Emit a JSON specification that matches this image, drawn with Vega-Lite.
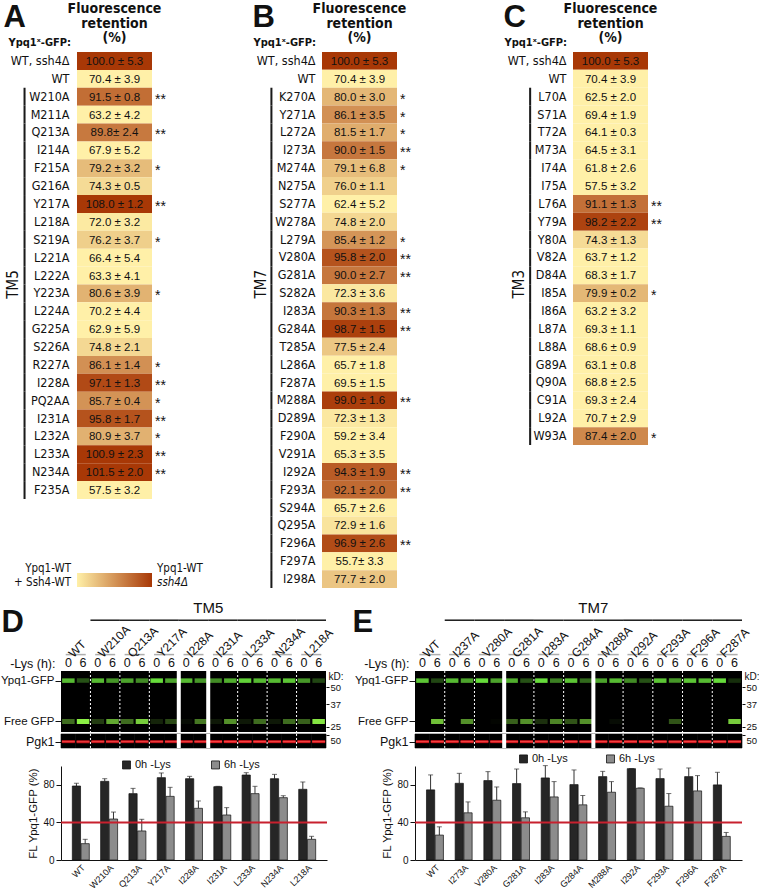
{
"$schema": "https://vega.github.io/schema/vega-lite/v6.json",
"padding": {"left": 0, "top": 1, "right": 0, "bottom": 0},
"background": "white",
"config": {
  "font": "Liberation Sans",
  "view": {"stroke": null},
  "axis": {"labelColor": "#111111", "titleColor": "#111111", "grid": false, "labelFont": "Liberation Sans", "titleFont": "Liberation Sans", "titleFontWeight": "normal"},
  "text": {"color": "#111111"}
},
"datasets": {
  "tm5": [
    {"mut":"WT, ssh4Δ","mean":100.0,"label":"100.0 ± 5.3","sig":"","tm":""},
    {"mut":"WT","mean":70.4,"label":"70.4 ± 3.9","sig":"","tm":""},
    {"mut":"W210A","mean":91.5,"label":"91.5 ± 0.8","sig":"**","tm":"TM5"},
    {"mut":"M211A","mean":63.2,"label":"63.2 ± 4.2","sig":"","tm":"TM5"},
    {"mut":"Q213A","mean":89.8,"label":"89.8± 2.4","sig":"**","tm":"TM5"},
    {"mut":"I214A","mean":67.9,"label":"67.9 ± 5.2","sig":"","tm":"TM5"},
    {"mut":"F215A","mean":79.2,"label":"79.2 ± 3.2","sig":"*","tm":"TM5"},
    {"mut":"G216A","mean":74.3,"label":"74.3 ± 0.5","sig":"","tm":"TM5"},
    {"mut":"Y217A","mean":108.0,"label":"108.0 ± 1.2","sig":"**","tm":"TM5"},
    {"mut":"L218A","mean":72.0,"label":"72.0 ± 3.2","sig":"","tm":"TM5"},
    {"mut":"S219A","mean":76.2,"label":"76.2 ± 3.7","sig":"*","tm":"TM5"},
    {"mut":"L221A","mean":66.4,"label":"66.4 ± 5.4","sig":"","tm":"TM5"},
    {"mut":"L222A","mean":63.3,"label":"63.3 ± 4.1","sig":"","tm":"TM5"},
    {"mut":"Y223A","mean":80.6,"label":"80.6 ± 3.9","sig":"*","tm":"TM5"},
    {"mut":"L224A","mean":70.2,"label":"70.2 ± 4.4","sig":"","tm":"TM5"},
    {"mut":"G225A","mean":62.9,"label":"62.9 ± 5.9","sig":"","tm":"TM5"},
    {"mut":"S226A","mean":74.8,"label":"74.8 ± 2.1","sig":"","tm":"TM5"},
    {"mut":"R227A","mean":86.1,"label":"86.1 ± 1.4","sig":"*","tm":"TM5"},
    {"mut":"I228A","mean":97.1,"label":"97.1 ± 1.3","sig":"**","tm":"TM5"},
    {"mut":"PQ2AA","mean":85.7,"label":"85.7 ± 0.4","sig":"*","tm":"TM5"},
    {"mut":"I231A","mean":95.8,"label":"95.8 ± 1.7","sig":"**","tm":"TM5"},
    {"mut":"L232A","mean":80.9,"label":"80.9 ± 3.7","sig":"*","tm":"TM5"},
    {"mut":"L233A","mean":100.9,"label":"100.9 ± 2.3","sig":"**","tm":"TM5"},
    {"mut":"N234A","mean":101.5,"label":"101.5 ± 2.0","sig":"**","tm":"TM5"},
    {"mut":"F235A","mean":57.5,"label":"57.5 ± 3.2","sig":"","tm":"TM5"}
  ],
  "tm7": [
    {"mut":"WT, ssh4Δ","mean":100.0,"label":"100.0 ± 5.3","sig":"","tm":""},
    {"mut":"WT","mean":70.4,"label":"70.4 ± 3.9","sig":"","tm":""},
    {"mut":"K270A","mean":80.0,"label":"80.0 ± 3.0","sig":"*","tm":"TM7"},
    {"mut":"Y271A","mean":86.1,"label":"86.1 ± 3.5","sig":"*","tm":"TM7"},
    {"mut":"L272A","mean":81.5,"label":"81.5 ± 1.7","sig":"*","tm":"TM7"},
    {"mut":"I273A","mean":90.0,"label":"90.0 ± 1.5","sig":"**","tm":"TM7"},
    {"mut":"M274A","mean":79.1,"label":"79.1 ± 6.8","sig":"*","tm":"TM7"},
    {"mut":"N275A","mean":76.0,"label":"76.0 ± 1.1","sig":"","tm":"TM7"},
    {"mut":"S277A","mean":62.4,"label":"62.4 ± 5.2","sig":"","tm":"TM7"},
    {"mut":"W278A","mean":74.8,"label":"74.8 ± 2.0","sig":"","tm":"TM7"},
    {"mut":"L279A","mean":85.4,"label":"85.4 ± 1.2","sig":"*","tm":"TM7"},
    {"mut":"V280A","mean":95.8,"label":"95.8 ± 2.0","sig":"**","tm":"TM7"},
    {"mut":"G281A","mean":90.0,"label":"90.0 ± 2.7","sig":"**","tm":"TM7"},
    {"mut":"S282A","mean":72.3,"label":"72.3 ± 3.6","sig":"","tm":"TM7"},
    {"mut":"I283A","mean":90.3,"label":"90.3 ± 1.3","sig":"**","tm":"TM7"},
    {"mut":"G284A","mean":98.7,"label":"98.7 ± 1.5","sig":"**","tm":"TM7"},
    {"mut":"T285A","mean":77.5,"label":"77.5 ± 2.4","sig":"","tm":"TM7"},
    {"mut":"L286A","mean":65.7,"label":"65.7 ± 1.8","sig":"","tm":"TM7"},
    {"mut":"F287A","mean":69.5,"label":"69.5 ± 1.5","sig":"","tm":"TM7"},
    {"mut":"M288A","mean":99.0,"label":"99.0 ± 1.6","sig":"**","tm":"TM7"},
    {"mut":"D289A","mean":72.3,"label":"72.3 ± 1.3","sig":"","tm":"TM7"},
    {"mut":"F290A","mean":59.2,"label":"59.2 ± 3.4","sig":"","tm":"TM7"},
    {"mut":"V291A","mean":65.3,"label":"65.3 ± 3.5","sig":"","tm":"TM7"},
    {"mut":"I292A","mean":94.3,"label":"94.3 ± 1.9","sig":"**","tm":"TM7"},
    {"mut":"F293A","mean":92.1,"label":"92.1 ± 2.0","sig":"**","tm":"TM7"},
    {"mut":"S294A","mean":65.7,"label":"65.7 ± 2.6","sig":"","tm":"TM7"},
    {"mut":"Q295A","mean":72.9,"label":"72.9 ± 1.6","sig":"","tm":"TM7"},
    {"mut":"F296A","mean":96.9,"label":"96.9 ± 2.6","sig":"**","tm":"TM7"},
    {"mut":"F297A","mean":55.7,"label":"55.7± 3.3","sig":"","tm":"TM7"},
    {"mut":"I298A","mean":77.7,"label":"77.7 ± 2.0","sig":"","tm":"TM7"}
  ],
  "tm3": [
    {"mut":"WT, ssh4Δ","mean":100.0,"label":"100.0 ± 5.3","sig":"","tm":""},
    {"mut":"WT","mean":70.4,"label":"70.4 ± 3.9","sig":"","tm":""},
    {"mut":"L70A","mean":62.5,"label":"62.5 ± 2.0","sig":"","tm":"TM3"},
    {"mut":"S71A","mean":69.4,"label":"69.4 ± 1.9","sig":"","tm":"TM3"},
    {"mut":"T72A","mean":64.1,"label":"64.1 ± 0.3","sig":"","tm":"TM3"},
    {"mut":"M73A","mean":64.5,"label":"64.5 ± 3.1","sig":"","tm":"TM3"},
    {"mut":"I74A","mean":61.8,"label":"61.8 ± 2.6","sig":"","tm":"TM3"},
    {"mut":"I75A","mean":57.5,"label":"57.5 ± 3.2","sig":"","tm":"TM3"},
    {"mut":"L76A","mean":91.1,"label":"91.1 ± 1.3","sig":"**","tm":"TM3"},
    {"mut":"Y79A","mean":98.2,"label":"98.2 ± 2.2","sig":"**","tm":"TM3"},
    {"mut":"Y80A","mean":74.3,"label":"74.3 ± 1.3","sig":"","tm":"TM3"},
    {"mut":"V82A","mean":63.7,"label":"63.7 ± 1.2","sig":"","tm":"TM3"},
    {"mut":"D84A","mean":68.3,"label":"68.3 ± 1.7","sig":"","tm":"TM3"},
    {"mut":"I85A","mean":79.9,"label":"79.9 ± 0.2","sig":"*","tm":"TM3"},
    {"mut":"I86A","mean":63.2,"label":"63.2 ± 3.2","sig":"","tm":"TM3"},
    {"mut":"L87A","mean":69.3,"label":"69.3 ± 1.1","sig":"","tm":"TM3"},
    {"mut":"L88A","mean":68.6,"label":"68.6 ± 0.9","sig":"","tm":"TM3"},
    {"mut":"G89A","mean":63.1,"label":"63.1 ± 0.8","sig":"","tm":"TM3"},
    {"mut":"Q90A","mean":68.8,"label":"68.8 ± 2.5","sig":"","tm":"TM3"},
    {"mut":"C91A","mean":69.3,"label":"69.3 ± 2.4","sig":"","tm":"TM3"},
    {"mut":"L92A","mean":70.7,"label":"70.7 ± 2.9","sig":"","tm":"TM3"},
    {"mut":"W93A","mean":87.4,"label":"87.4 ± 2.0","sig":"*","tm":"TM3"}
  ],
  "sampD": [
    {"sample":"WT","name":"WT","tm":""},
    {"sample":"W210A","name":"W210A","tm":"TM5"},
    {"sample":"Q213A","name":"Q213A","tm":"TM5"},
    {"sample":"Y217A","name":"Y217A","tm":"TM5"},
    {"sample":"I228A","name":"I228A","tm":"TM5"},
    {"sample":"I231A","name":"I231A","tm":"TM5"},
    {"sample":"L233A","name":"L233A","tm":"TM5"},
    {"sample":"N234A","name":"N234A","tm":"TM5"},
    {"sample":"L218A","name":"L218A","tm":"TM5"}
  ],
  "sampE": [
    {"sample":"WT","name":"WT","tm":""},
    {"sample":"I273A","name":"I237A","tm":"TM7"},
    {"sample":"V280A","name":"V280A","tm":"TM7"},
    {"sample":"G281A","name":"G281A","tm":"TM7"},
    {"sample":"I283A","name":"I283A","tm":"TM7"},
    {"sample":"G284A","name":"G284A","tm":"TM7"},
    {"sample":"M288A","name":"M288A","tm":"TM7"},
    {"sample":"I292A","name":"I292A","tm":"TM7"},
    {"sample":"F293A","name":"F293A","tm":"TM7"},
    {"sample":"F296A","name":"F296A","tm":"TM7"},
    {"sample":"F287A","name":"F287A","tm":"TM7"}
  ],
  "blotD": [
    {"lane":"WT|0","band":"FL","kd":56,"i":0.8},{"lane":"WT|0","band":"free","kd":27.5,"i":0.45},{"lane":"WT|0","band":"Pgk1","kd":45,"i":0.85,"sep":""},
    {"lane":"WT|6","band":"FL","kd":56,"i":0.35},{"lane":"WT|6","band":"free","kd":27.5,"i":1.0},{"lane":"WT|6","band":"Pgk1","kd":45,"i":0.85,"sep":""},
    {"lane":"W210A|0","band":"FL","kd":56,"i":0.8},{"lane":"W210A|0","band":"free","kd":27.5,"i":0.25},{"lane":"W210A|0","band":"Pgk1","kd":45,"i":0.85,"sep":"dotted"},
    {"lane":"W210A|6","band":"FL","kd":56,"i":0.65},{"lane":"W210A|6","band":"free","kd":27.5,"i":0.7},{"lane":"W210A|6","band":"Pgk1","kd":45,"i":0.85,"sep":""},
    {"lane":"Q213A|0","band":"FL","kd":56,"i":0.7},{"lane":"Q213A|0","band":"free","kd":27.5,"i":0.45},{"lane":"Q213A|0","band":"Pgk1","kd":45,"i":0.85,"sep":"dotted"},
    {"lane":"Q213A|6","band":"FL","kd":56,"i":0.6},{"lane":"Q213A|6","band":"free","kd":27.5,"i":0.85},{"lane":"Q213A|6","band":"Pgk1","kd":45,"i":0.85,"sep":""},
    {"lane":"Y217A|0","band":"FL","kd":56,"i":0.95},{"lane":"Y217A|0","band":"free","kd":27.5,"i":0.15},{"lane":"Y217A|0","band":"Pgk1","kd":45,"i":0.85,"sep":"dotted"},
    {"lane":"Y217A|6","band":"FL","kd":56,"i":0.7},{"lane":"Y217A|6","band":"free","kd":27.5,"i":0.3},{"lane":"Y217A|6","band":"Pgk1","kd":45,"i":0.85,"sep":""},
    {"lane":"I228A|0","band":"FL","kd":56,"i":0.8},{"lane":"I228A|0","band":"free","kd":27.5,"i":0.05},{"lane":"I228A|0","band":"Pgk1","kd":45,"i":0.85,"sep":"gap"},
    {"lane":"I228A|6","band":"FL","kd":56,"i":0.65},{"lane":"I228A|6","band":"free","kd":27.5,"i":0.5},{"lane":"I228A|6","band":"Pgk1","kd":45,"i":0.85,"sep":""},
    {"lane":"I231A|0","band":"FL","kd":56,"i":0.6},{"lane":"I231A|0","band":"free","kd":27.5,"i":0.1},{"lane":"I231A|0","band":"Pgk1","kd":45,"i":0.95,"sep":"gap"},
    {"lane":"I231A|6","band":"FL","kd":56,"i":0.75},{"lane":"I231A|6","band":"free","kd":27.5,"i":0.6},{"lane":"I231A|6","band":"Pgk1","kd":45,"i":0.95,"sep":""},
    {"lane":"L233A|0","band":"FL","kd":56,"i":0.9},{"lane":"L233A|0","band":"free","kd":27.5,"i":0.1},{"lane":"L233A|0","band":"Pgk1","kd":45,"i":0.95,"sep":"dotted"},
    {"lane":"L233A|6","band":"FL","kd":56,"i":0.8},{"lane":"L233A|6","band":"free","kd":27.5,"i":0.45},{"lane":"L233A|6","band":"Pgk1","kd":45,"i":0.95,"sep":""},
    {"lane":"N234A|0","band":"FL","kd":56,"i":0.8},{"lane":"N234A|0","band":"free","kd":27.5,"i":0.1},{"lane":"N234A|0","band":"Pgk1","kd":45,"i":0.9,"sep":"dotted"},
    {"lane":"N234A|6","band":"FL","kd":56,"i":0.85},{"lane":"N234A|6","band":"free","kd":27.5,"i":0.45},{"lane":"N234A|6","band":"Pgk1","kd":45,"i":0.9,"sep":""},
    {"lane":"L218A|0","band":"FL","kd":56,"i":0.65},{"lane":"L218A|0","band":"free","kd":27.5,"i":0.4},{"lane":"L218A|0","band":"Pgk1","kd":45,"i":0.9,"sep":"dotted"},
    {"lane":"L218A|6","band":"FL","kd":56,"i":0.3},{"lane":"L218A|6","band":"free","kd":27.5,"i":0.95},{"lane":"L218A|6","band":"Pgk1","kd":45,"i":0.9,"sep":""}
  ],
  "blotE": [
    {"lane":"WT|0","band":"FL","kd":56,"i":0.85},{"lane":"WT|0","band":"free","kd":27.5,"i":0.0},{"lane":"WT|0","band":"Pgk1","kd":45,"i":0.9,"sep":""},
    {"lane":"WT|6","band":"FL","kd":56,"i":0.3},{"lane":"WT|6","band":"free","kd":27.5,"i":0.8},{"lane":"WT|6","band":"Pgk1","kd":45,"i":0.9,"sep":""},
    {"lane":"I273A|0","band":"FL","kd":56,"i":0.8},{"lane":"I273A|0","band":"free","kd":27.5,"i":0.0},{"lane":"I273A|0","band":"Pgk1","kd":45,"i":0.9,"sep":"dotted"},
    {"lane":"I273A|6","band":"FL","kd":56,"i":0.7},{"lane":"I273A|6","band":"free","kd":27.5,"i":0.6},{"lane":"I273A|6","band":"Pgk1","kd":45,"i":0.9,"sep":""},
    {"lane":"V280A|0","band":"FL","kd":56,"i":0.95},{"lane":"V280A|0","band":"free","kd":27.5,"i":0.0},{"lane":"V280A|0","band":"Pgk1","kd":45,"i":0.9,"sep":"dotted"},
    {"lane":"V280A|6","band":"FL","kd":56,"i":0.7},{"lane":"V280A|6","band":"free","kd":27.5,"i":0.02},{"lane":"V280A|6","band":"Pgk1","kd":45,"i":0.9,"sep":""},
    {"lane":"G281A|0","band":"FL","kd":56,"i":0.75},{"lane":"G281A|0","band":"free","kd":27.5,"i":0.4},{"lane":"G281A|0","band":"Pgk1","kd":45,"i":0.9,"sep":"gap"},
    {"lane":"G281A|6","band":"FL","kd":56,"i":0.35},{"lane":"G281A|6","band":"free","kd":27.5,"i":0.6},{"lane":"G281A|6","band":"Pgk1","kd":45,"i":0.9,"sep":""},
    {"lane":"I283A|0","band":"FL","kd":56,"i":0.95},{"lane":"I283A|0","band":"free","kd":27.5,"i":0.2},{"lane":"I283A|0","band":"Pgk1","kd":45,"i":0.9,"sep":"dotted"},
    {"lane":"I283A|6","band":"FL","kd":56,"i":0.55},{"lane":"I283A|6","band":"free","kd":27.5,"i":0.55},{"lane":"I283A|6","band":"Pgk1","kd":45,"i":0.9,"sep":""},
    {"lane":"G284A|0","band":"FL","kd":56,"i":0.85},{"lane":"G284A|0","band":"free","kd":27.5,"i":0.35},{"lane":"G284A|0","band":"Pgk1","kd":45,"i":0.95,"sep":"dotted"},
    {"lane":"G284A|6","band":"FL","kd":56,"i":0.45},{"lane":"G284A|6","band":"free","kd":27.5,"i":0.6},{"lane":"G284A|6","band":"Pgk1","kd":45,"i":0.9,"sep":""},
    {"lane":"M288A|0","band":"FL","kd":56,"i":0.7},{"lane":"M288A|0","band":"free","kd":27.5,"i":0.0},{"lane":"M288A|0","band":"Pgk1","kd":45,"i":0.9,"sep":"gap"},
    {"lane":"M288A|6","band":"FL","kd":56,"i":0.8},{"lane":"M288A|6","band":"free","kd":27.5,"i":0.05},{"lane":"M288A|6","band":"Pgk1","kd":45,"i":0.9,"sep":""},
    {"lane":"I292A|0","band":"FL","kd":56,"i":0.6},{"lane":"I292A|0","band":"free","kd":27.5,"i":0.0},{"lane":"I292A|0","band":"Pgk1","kd":45,"i":0.9,"sep":"dotted"},
    {"lane":"I292A|6","band":"FL","kd":56,"i":0.35},{"lane":"I292A|6","band":"free","kd":27.5,"i":0.0},{"lane":"I292A|6","band":"Pgk1","kd":45,"i":0.9,"sep":""},
    {"lane":"F293A|0","band":"FL","kd":56,"i":0.85},{"lane":"F293A|0","band":"free","kd":27.5,"i":0.0},{"lane":"F293A|0","band":"Pgk1","kd":45,"i":0.9,"sep":"dotted"},
    {"lane":"F293A|6","band":"FL","kd":56,"i":0.65},{"lane":"F293A|6","band":"free","kd":27.5,"i":0.35},{"lane":"F293A|6","band":"Pgk1","kd":45,"i":0.9,"sep":""},
    {"lane":"F296A|0","band":"FL","kd":56,"i":0.85},{"lane":"F296A|0","band":"free","kd":27.5,"i":0.0},{"lane":"F296A|0","band":"Pgk1","kd":45,"i":0.9,"sep":"dotted"},
    {"lane":"F296A|6","band":"FL","kd":56,"i":0.8},{"lane":"F296A|6","band":"free","kd":27.5,"i":0.0},{"lane":"F296A|6","band":"Pgk1","kd":45,"i":0.9,"sep":""},
    {"lane":"F287A|0","band":"FL","kd":56,"i":0.95},{"lane":"F287A|0","band":"free","kd":27.5,"i":0.0},{"lane":"F287A|0","band":"Pgk1","kd":45,"i":0.9,"sep":"dotted"},
    {"lane":"F287A|6","band":"FL","kd":56,"i":0.2},{"lane":"F287A|6","band":"free","kd":27.5,"i":0.85},{"lane":"F287A|6","band":"Pgk1","kd":45,"i":0.9,"sep":""}
  ],
  "barD": [
    {"sample":"WT","t":"0h -Lys","v":78.7,"hi":81.6},{"sample":"WT","t":"6h -Lys","v":17.4,"hi":22.0},
    {"sample":"W210A","t":"0h -Lys","v":83.7,"hi":86.5},{"sample":"W210A","t":"6h -Lys","v":43.6,"hi":51.0},
    {"sample":"Q213A","t":"0h -Lys","v":70.6,"hi":76.2},{"sample":"Q213A","t":"6h -Lys","v":30.9,"hi":43.3},
    {"sample":"Y217A","t":"0h -Lys","v":87.6,"hi":92.6},{"sample":"Y217A","t":"6h -Lys","v":67.7,"hi":77.3},
    {"sample":"I228A","t":"0h -Lys","v":86.5,"hi":89.0},{"sample":"I228A","t":"6h -Lys","v":55.0,"hi":62.8},
    {"sample":"I231A","t":"0h -Lys","v":78.0,"hi":78.4},{"sample":"I231A","t":"6h -Lys","v":47.9,"hi":55.7},
    {"sample":"L233A","t":"0h -Lys","v":90.4,"hi":92.9},{"sample":"L233A","t":"6h -Lys","v":70.6,"hi":78.4},
    {"sample":"N234A","t":"0h -Lys","v":86.5,"hi":91.1},{"sample":"N234A","t":"6h -Lys","v":66.3,"hi":68.4},
    {"sample":"L218A","t":"0h -Lys","v":75.2,"hi":83.0},{"sample":"L218A","t":"6h -Lys","v":22.0,"hi":25.2}
  ],
  "barE": [
    {"sample":"WT","t":"0h -Lys","v":74.6,"hi":90.5},{"sample":"WT","t":"6h -Lys","v":26.5,"hi":35.3},
    {"sample":"I273A","t":"0h -Lys","v":81.6,"hi":92.2},{"sample":"I273A","t":"6h -Lys","v":50.2,"hi":61.8},
    {"sample":"V280A","t":"0h -Lys","v":84.5,"hi":94.0},{"sample":"V280A","t":"6h -Lys","v":63.6,"hi":77.7},
    {"sample":"G281A","t":"0h -Lys","v":81.3,"hi":96.8},{"sample":"G281A","t":"6h -Lys","v":44.9,"hi":51.2},
    {"sample":"I283A","t":"0h -Lys","v":87.3,"hi":100.4},{"sample":"I283A","t":"6h -Lys","v":67.1,"hi":83.4},
    {"sample":"G284A","t":"0h -Lys","v":80.2,"hi":95.8},{"sample":"G284A","t":"6h -Lys","v":58.7,"hi":68.6},
    {"sample":"M288A","t":"0h -Lys","v":88.7,"hi":94.3},{"sample":"M288A","t":"6h -Lys","v":72.1,"hi":83.4},
    {"sample":"I292A","t":"0h -Lys","v":97.2,"hi":97.2},{"sample":"I292A","t":"6h -Lys","v":76.3,"hi":76.7},
    {"sample":"F293A","t":"0h -Lys","v":86.6,"hi":96.8},{"sample":"F293A","t":"6h -Lys","v":57.2,"hi":70.7},
    {"sample":"F296A","t":"0h -Lys","v":88.7,"hi":97.9},{"sample":"F296A","t":"6h -Lys","v":73.5,"hi":89.8},
    {"sample":"F287A","t":"0h -Lys","v":79.9,"hi":93.3},{"sample":"F287A","t":"6h -Lys","v":25.1,"hi":29.3}
  ]
},
"spacing": 11,
"align": "none",
"resolve": {"scale": {"color": "independent"}},
"vconcat": [
 {
  "spacing": 49,
  "hconcat": [
   {
    "bounds": "flush",
    "spacing": 74,
    "vconcat": [
     {
      "data": {"name": "tm5"},
      "width": 91, "height": 447,
      "encoding": {"y": {"field": "mut", "type": "nominal", "sort": null, "scale": {"paddingInner": 0, "paddingOuter": 0},
        "axis": {"title": "A", "titleAngle": 0, "titleX": -58, "titleY": -50, "titleAlign": "left", "titleBaseline": "top", "titleFontSize": 31, "titleFontWeight": "bold", "labelFont": "DejaVu Sans Condensed, sans-serif", "labelFontSize": 12.5, "labelPadding": -8, "ticks": false, "domain": false}}},
      "layer": [
       {"mark": {"type": "rect"}, "encoding": {"x": {"datum": 0, "type": "quantitative", "scale": {"domain": [-0.21333, 1], "nice": false, "zero": false}, "axis": null}, "x2": {"datum": 1},
         "color": {"field": "mean", "type": "quantitative", "scale": {"type": "linear", "domain": [71, 100], "range": ["#FFF0A8", "#A83806"], "clamp": true, "interpolate": "rgb"}, "legend": null}}},
       {"mark": {"type": "text", "font": "Liberation Sans", "fontSize": 11.5, "baseline": "middle", "dy": 1}, "encoding": {"x": {"datum": 0.5, "type": "quantitative"}, "text": {"field": "label"}}},
       {"mark": {"type": "text", "font": "Liberation Sans", "fontSize": 14, "align": "left", "baseline": "middle", "dx": 3, "dy": 3}, "encoding": {"x": {"datum": 1, "type": "quantitative"}, "text": {"field": "sig"}}},
       {"transform": [{"filter": "datum.tm !== ''"}], "mark": {"type": "rect", "color": "#1a1a1a"}, "encoding": {"x": {"datum": -0.713, "type": "quantitative"}, "x2": {"datum": -0.686}}},
       {"transform": [{"filter": "datum.mut === 'L222A'"}], "mark": {"type": "text", "font": "DejaVu Sans Condensed, sans-serif", "fontSize": 15, "angle": 270, "baseline": "middle"}, "encoding": {"x": {"datum": -0.853, "type": "quantitative"}, "y": {"field": "mut", "type": "nominal", "sort": null, "bandPosition": 1}, "text": {"field": "tm"}}},
       {"transform": [{"filter": "datum.mut === 'WT, ssh4Δ'"}], "mark": {"type": "text", "font": "DejaVu Sans Condensed, sans-serif", "fontSize": 14, "fontWeight": "bold", "lineHeight": 14.5, "baseline": "bottom", "dy": -36}, "encoding": {"x": {"datum": 0.5, "type": "quantitative"}, "y": {"field": "mut", "type": "nominal", "sort": null, "bandPosition": 0}, "text": {"value": ["Fluorescence", "retention", "(%)"]}}},
       {"transform": [{"filter": "datum.mut === 'WT, ssh4Δ'"}], "mark": {"type": "text", "font": "DejaVu Sans Condensed, sans-serif", "fontSize": 11, "fontWeight": "bold", "align": "right", "baseline": "bottom", "dx": -6, "dy": -4}, "encoding": {"x": {"datum": 0, "type": "quantitative"}, "y": {"field": "mut", "type": "nominal", "sort": null, "bandPosition": 0}, "text": {"value": "Ypq1ˣ-GFP:"}}}
      ]
     },
     {
      "data": {"values": [{"lo": "Ypq1-WT", "lo2": "+ Ssh4-WT", "hi": "Ypq1-WT", "hi2": "ssh4Δ"}]},
      "width": 91, "height": 14,
      "layer": [
       {"mark": {"type": "rect", "fill": {"gradient": "linear", "x1": 0, "y1": 0, "x2": 1, "y2": 0, "stops": [{"offset": 0, "color": "#FFF0A8"}, {"offset": 1, "color": "#A83806"}]}},
        "encoding": {"x": {"datum": 0, "type": "quantitative", "scale": {"domain": [-0.21333, 1], "nice": false, "zero": false}, "axis": null}, "x2": {"datum": 1}, "y": {"datum": 0, "type": "quantitative", "scale": {"domain": [0, 1]}, "axis": null}, "y2": {"datum": 1}}},
       {"mark": {"type": "text", "align": "right", "baseline": "middle", "dx": -6, "font": "DejaVu Sans Condensed, sans-serif", "fontSize": 11.5}, "encoding": {"x": {"datum": 0, "type": "quantitative"}, "y": {"datum": 1.3, "type": "quantitative"}, "text": {"field": "lo"}}},
       {"mark": {"type": "text", "align": "right", "baseline": "middle", "dx": -6, "font": "DejaVu Sans Condensed, sans-serif", "fontSize": 11.5}, "encoding": {"x": {"datum": 0, "type": "quantitative"}, "y": {"datum": 0.3, "type": "quantitative"}, "text": {"field": "lo2"}}},
       {"mark": {"type": "text", "align": "left", "baseline": "middle", "dx": 5, "font": "DejaVu Sans Condensed, sans-serif", "fontSize": 11.5}, "encoding": {"x": {"datum": 1, "type": "quantitative"}, "y": {"datum": 1.3, "type": "quantitative"}, "text": {"field": "hi"}}},
       {"mark": {"type": "text", "align": "left", "baseline": "middle", "dx": 5, "font": "DejaVu Sans Condensed, sans-serif", "fontSize": 11.5, "fontStyle": "italic"}, "encoding": {"x": {"datum": 1, "type": "quantitative"}, "y": {"datum": 0.3, "type": "quantitative"}, "text": {"field": "hi2"}}}
      ]
     }
    ]
   },
   {
    "spacing": 92,
    "hconcat": [
     {
      "data": {"name": "tm7"},
      "width": 75, "height": 536,
      "encoding": {"y": {"field": "mut", "type": "nominal", "sort": null, "scale": {"paddingInner": 0, "paddingOuter": 0},
        "axis": {"title": "B", "titleAngle": 0, "titleX": -70, "titleY": -50, "titleAlign": "left", "titleBaseline": "top", "titleFontSize": 31, "titleFontWeight": "bold", "labelFont": "DejaVu Sans Condensed, sans-serif", "labelFontSize": 12.5, "labelPadding": 7, "ticks": false, "domain": false}}},
      "layer": [
       {"mark": {"type": "rect"}, "encoding": {"x": {"datum": 0, "type": "quantitative", "scale": {"domain": [0, 1]}, "axis": null}, "x2": {"datum": 1},
         "color": {"field": "mean", "type": "quantitative", "scale": {"type": "linear", "domain": [71, 100], "range": ["#FFF0A8", "#A83806"], "clamp": true, "interpolate": "rgb"}, "legend": null}}},
       {"mark": {"type": "text", "font": "Liberation Sans", "fontSize": 11.5, "baseline": "middle", "dy": 1}, "encoding": {"x": {"datum": 0.5, "type": "quantitative"}, "text": {"field": "label"}}},
       {"mark": {"type": "text", "font": "Liberation Sans", "fontSize": 14, "align": "left", "baseline": "middle", "dx": 3, "dy": 3}, "encoding": {"x": {"datum": 1, "type": "quantitative"}, "text": {"field": "sig"}}},
       {"transform": [{"filter": "datum.tm !== ''"}], "mark": {"type": "rect", "color": "#1a1a1a"}, "encoding": {"x": {"datum": -0.688, "type": "quantitative"}, "x2": {"datum": -0.661}}},
       {"transform": [{"filter": "datum.mut === 'G281A'"}], "mark": {"type": "text", "font": "DejaVu Sans Condensed, sans-serif", "fontSize": 15, "angle": 270, "baseline": "middle"}, "encoding": {"x": {"datum": -0.815, "type": "quantitative"}, "y": {"field": "mut", "type": "nominal", "sort": null, "bandPosition": 1}, "text": {"field": "tm"}}},
       {"transform": [{"filter": "datum.mut === 'WT, ssh4Δ'"}], "mark": {"type": "text", "font": "DejaVu Sans Condensed, sans-serif", "fontSize": 14, "fontWeight": "bold", "lineHeight": 14.5, "baseline": "bottom", "dy": -36}, "encoding": {"x": {"datum": 0.5, "type": "quantitative"}, "y": {"field": "mut", "type": "nominal", "sort": null, "bandPosition": 0}, "text": {"value": ["Fluorescence", "retention", "(%)"]}}},
       {"transform": [{"filter": "datum.mut === 'WT, ssh4Δ'"}], "mark": {"type": "text", "font": "DejaVu Sans Condensed, sans-serif", "fontSize": 11, "fontWeight": "bold", "align": "right", "baseline": "bottom", "dx": -6, "dy": -4}, "encoding": {"x": {"datum": 0, "type": "quantitative"}, "y": {"field": "mut", "type": "nominal", "sort": null, "bandPosition": 0}, "text": {"value": "Ypq1ˣ-GFP:"}}}
      ]
     },
     {
      "data": {"name": "tm3"},
      "width": 75, "height": 393,
      "encoding": {"y": {"field": "mut", "type": "nominal", "sort": null, "scale": {"paddingInner": 0, "paddingOuter": 0},
        "axis": {"title": "C", "titleAngle": 0, "titleX": -70, "titleY": -50, "titleAlign": "left", "titleBaseline": "top", "titleFontSize": 31, "titleFontWeight": "bold", "labelFont": "DejaVu Sans Condensed, sans-serif", "labelFontSize": 12.5, "labelPadding": 7, "ticks": false, "domain": false}}},
      "layer": [
       {"mark": {"type": "rect"}, "encoding": {"x": {"datum": 0, "type": "quantitative", "scale": {"domain": [0, 1]}, "axis": null}, "x2": {"datum": 1},
         "color": {"field": "mean", "type": "quantitative", "scale": {"type": "linear", "domain": [71, 100], "range": ["#FFF0A8", "#A83806"], "clamp": true, "interpolate": "rgb"}, "legend": null}}},
       {"mark": {"type": "text", "font": "Liberation Sans", "fontSize": 11.5, "baseline": "middle", "dy": 1}, "encoding": {"x": {"datum": 0.5, "type": "quantitative"}, "text": {"field": "label"}}},
       {"mark": {"type": "text", "font": "Liberation Sans", "fontSize": 14, "align": "left", "baseline": "middle", "dx": 3, "dy": 3}, "encoding": {"x": {"datum": 1, "type": "quantitative"}, "text": {"field": "sig"}}},
       {"transform": [{"filter": "datum.tm !== ''"}], "mark": {"type": "rect", "color": "#1a1a1a"}, "encoding": {"x": {"datum": -0.585, "type": "quantitative"}, "x2": {"datum": -0.558}}},
       {"transform": [{"filter": "datum.mut === 'D84A'"}], "mark": {"type": "text", "font": "DejaVu Sans Condensed, sans-serif", "fontSize": 15, "angle": 270, "baseline": "middle"}, "encoding": {"x": {"datum": -0.72, "type": "quantitative"}, "y": {"field": "mut", "type": "nominal", "sort": null, "bandPosition": 1}, "text": {"field": "tm"}}},
       {"transform": [{"filter": "datum.mut === 'WT, ssh4Δ'"}], "mark": {"type": "text", "font": "DejaVu Sans Condensed, sans-serif", "fontSize": 14, "fontWeight": "bold", "lineHeight": 14.5, "baseline": "bottom", "dy": -36}, "encoding": {"x": {"datum": 0.5, "type": "quantitative"}, "y": {"field": "mut", "type": "nominal", "sort": null, "bandPosition": 0}, "text": {"value": ["Fluorescence", "retention", "(%)"]}}},
       {"transform": [{"filter": "datum.mut === 'WT, ssh4Δ'"}], "mark": {"type": "text", "font": "DejaVu Sans Condensed, sans-serif", "fontSize": 11, "fontWeight": "bold", "align": "right", "baseline": "bottom", "dx": -6, "dy": -4}, "encoding": {"x": {"datum": 0, "type": "quantitative"}, "y": {"field": "mut", "type": "nominal", "sort": null, "bandPosition": 0}, "text": {"value": "Ypq1ˣ-GFP:"}}}
      ]
     }
    ]
   }
  ]
 },
 {
  "spacing": 9,
  "resolve": {"scale": {"color": "independent"}},
  "hconcat": [
   {
    "bounds": "flush",
    "spacing": 2,
    "resolve": {"scale": {"color": "independent"}},
    "vconcat": [
     {
      "data": {"name": "sampD"},
      "width": 265, "height": 60,
      "encoding": {"x": {"field": "sample", "type": "nominal", "sort": null, "scale": {"paddingInner": 0, "paddingOuter": 0}, "axis": null}},
      "layer": [
       {"mark": {"type": "tick", "orient": "horizontal", "size": 20, "thickness": 1.5, "color": "#8C8C8C"},
        "encoding": {"y": {"datum": 0.24, "type": "quantitative", "scale": {"domain": [0, 1]}, "axis": {"title": "D", "titleAngle": 0, "titleX": -60, "titleY": -2, "titleAlign": "left", "titleBaseline": "top", "titleFontSize": 31, "titleFontWeight": "bold", "labels": false, "ticks": false, "domain": false}}}},
       {"mark": {"type": "text", "angle": -45, "align": "left", "baseline": "middle", "fontSize": 12, "dx": -7},
        "encoding": {"y": {"datum": 0.31, "type": "quantitative"}, "text": {"field": "name"}}},
       {"transform": [{"filter": "datum.tm !== ''"}], "mark": {"type": "bar", "color": "#222222"},
        "encoding": {"y": {"datum": 0.8, "type": "quantitative"}, "y2": {"datum": 0.826}}},
       {"transform": [{"filter": "datum.sample === 'I231A'"}], "mark": {"type": "text", "fontSize": 15, "baseline": "bottom", "dy": -3},
        "encoding": {"x": {"field": "sample", "type": "nominal", "sort": null, "bandPosition": 0}, "y": {"datum": 0.826, "type": "quantitative"}, "text": {"field": "tm"}}}
      ]
     },
     {
      "data": {"name": "blotD"},
      "width": 265, "height": 61,
      "view": {"fill": "#000000", "stroke": null},
      "encoding": {"x": {"field": "lane", "type": "nominal", "sort": null, "scale": {"paddingInner": 0, "paddingOuter": 0},
        "axis": {"orient": "top", "title": "-Lys (h):", "titleAngle": 0, "titleX": -6, "titleY": -8, "titleAlign": "right", "titleBaseline": "middle", "titleFontSize": 12.5, "labelExpr": "split(datum.value, '|')[1]", "labelAngle": 0, "labelFontSize": 12.5, "labelPadding": 2, "ticks": false, "domain": false}}},
      "layer": [
       {"transform": [{"filter": "datum.band === 'FL'"}],
        "mark": {"type": "tick", "orient": "horizontal", "size": 12.5, "thickness": 4.5, "color": "#6CE83E"},
        "encoding": {"y": {"field": "kd", "type": "quantitative", "scale": {"type": "log", "domain": [22.9, 66.2], "nice": false},
          "axis": {"orient": "left", "title": null, "values": [56, 27.5], "labelExpr": "datum.value > 40 ? 'Ypq1-GFP' : 'Free GFP'", "labelFontSize": 11.5, "labelPadding": 1, "tickSize": 6, "tickColor": "#111111", "domain": false}},
          "opacity": {"field": "i", "type": "quantitative", "scale": {"domain": [0, 1], "range": [0, 1]}, "legend": null}}},
       {"transform": [{"filter": "datum.band === 'free'"}],
        "mark": {"type": "tick", "orient": "horizontal", "size": 12.5, "thickness": 5, "color": "#8CF046"},
        "encoding": {"y": {"field": "kd", "type": "quantitative",
          "axis": {"orient": "right", "title": "kD:", "titleAngle": 0, "titleX": 2, "titleY": 5, "titleAlign": "left", "titleBaseline": "middle", "titleFontSize": 10, "values": [50, 37, 25], "format": "d", "labelFontSize": 9.5, "labelPadding": 1, "tickSize": 3, "tickColor": "#111111", "domain": false}},
          "opacity": {"field": "i", "type": "quantitative", "legend": null}}},
       {"transform": [{"filter": "datum.band === 'Pgk1' && datum.sep === 'dotted'"}],
        "mark": {"type": "rule", "color": "#ffffff", "strokeWidth": 1, "strokeDash": [2, 2]},
        "encoding": {"x": {"field": "lane", "type": "nominal", "sort": null, "bandPosition": 0}}},
       {"transform": [{"filter": "datum.band === 'Pgk1' && datum.sep === 'gap'"}],
        "mark": {"type": "rule", "color": "#ffffff", "strokeWidth": 4},
        "encoding": {"x": {"field": "lane", "type": "nominal", "sort": null, "bandPosition": 0}}}
      ],
      "resolve": {"axis": {"y": "independent"}}
     },
     {
      "data": {"name": "blotD"},
      "transform": [{"filter": "datum.band === 'Pgk1'"}],
      "width": 265, "height": 30,
      "encoding": {"x": {"field": "lane", "type": "nominal", "sort": null, "scale": {"paddingInner": 0, "paddingOuter": 0}, "axis": null}},
      "layer": [
       {"mark": {"type": "bar", "color": "#000000", "stroke": "#000000", "strokeWidth": 0.6},
        "encoding": {"y": {"datum": 40, "type": "quantitative", "scale": {"domain": [27.4, 51], "nice": false, "zero": false}, "axis": null}, "y2": {"datum": 51}}},
       {"mark": {"type": "tick", "orient": "horizontal", "size": 13, "thickness": 3, "color": "#E0161E"},
        "encoding": {"y": {"field": "kd", "type": "quantitative", "axis": {"orient": "left", "title": null, "values": [45], "labelExpr": "'Pgk1'", "labelFontSize": 12.5, "labelPadding": 1, "tickSize": 6, "tickColor": "#111111", "domain": false}},
          "opacity": {"field": "i", "type": "quantitative", "scale": {"domain": [0, 1], "range": [0, 1]}, "legend": null}}},
       {"mark": {"type": "tick", "orient": "horizontal", "size": 13, "thickness": 1, "color": "#FF4A4A"},
        "encoding": {"y": {"field": "kd", "type": "quantitative", "axis": {"orient": "right", "title": null, "values": [50], "labelFontSize": 9.5, "labelBaseline": "top", "labelPadding": 1, "tickSize": 3, "tickColor": "#111111", "domain": false}},
          "opacity": {"field": "i", "type": "quantitative", "legend": null}}},
       {"transform": [{"filter": "datum.sep === 'dotted'"}],
        "mark": {"type": "rule", "color": "#ffffff", "strokeWidth": 1, "strokeDash": [2, 2]},
        "encoding": {"x": {"field": "lane", "type": "nominal", "sort": null, "bandPosition": 0}, "y": {"datum": 40, "type": "quantitative", "axis": null}, "y2": {"datum": 51}}},
       {"transform": [{"filter": "datum.sep === 'gap'"}],
        "mark": {"type": "rule", "color": "#ffffff", "strokeWidth": 4},
        "encoding": {"x": {"field": "lane", "type": "nominal", "sort": null, "bandPosition": 0}, "y": {"datum": 40, "type": "quantitative", "axis": null}, "y2": {"datum": 51}}}
      ],
      "resolve": {"axis": {"y": "independent"}}
     },
     {
      "data": {"name": "barD"},
      "width": 266, "height": 94,
      "layer": [
       {"mark": {"type": "rule", "color": "#333333", "strokeWidth": 1},
        "encoding": {
          "x": {"field": "sample", "type": "nominal", "sort": null, "scale": {"paddingInner": 0.4, "paddingOuter": 0.4}, "axis": {"title": null, "labelAngle": -45, "labelFontSize": 9, "labelPadding": 3, "ticks": false, "domainColor": "#111111"}},
          "xOffset": {"field": "t", "type": "nominal", "sort": ["0h -Lys", "6h -Lys"], "scale": {"paddingInner": 0.06}},
          "y": {"field": "v", "type": "quantitative", "scale": {"domain": [0, 100]}, "axis": {"title": "FL Ypq1-GFP (%)", "titleFontSize": 11.5, "titlePadding": 4, "values": [0, 20, 40, 60, 80, 100], "labelFontSize": 10, "labelPadding": 2, "tickSize": 5, "tickColor": "#111111", "domainColor": "#111111"}},
          "y2": {"field": "hi"}}},
       {"mark": {"type": "tick", "orient": "horizontal", "size": 5, "thickness": 1, "color": "#333333"},
        "encoding": {
          "x": {"field": "sample", "type": "nominal", "sort": null},
          "xOffset": {"field": "t", "type": "nominal", "sort": ["0h -Lys", "6h -Lys"]},
          "y": {"field": "hi", "type": "quantitative"}}},
       {"mark": {"type": "bar", "stroke": "#111111", "strokeWidth": 0.7},
        "encoding": {
          "x": {"field": "sample", "type": "nominal", "sort": null},
          "xOffset": {"field": "t", "type": "nominal", "sort": ["0h -Lys", "6h -Lys"]},
          "y": {"field": "v", "type": "quantitative"},
          "color": {"field": "t", "type": "nominal", "scale": {"domain": ["0h -Lys", "6h -Lys"], "range": ["#262626", "#8C8C8C"]},
            "legend": {"title": null, "orient": "none", "legendX": 60, "legendY": -7, "direction": "horizontal", "symbolType": "square", "symbolSize": 64, "symbolStrokeColor": "#111111", "symbolStrokeWidth": 0.8, "labelFontSize": 11, "labelColor": "#111111", "columnPadding": 38, "labelOffset": 3}}}},
       {"data": {"values": [{"cut": 40}]}, "mark": {"type": "rule", "color": "#C8202E", "strokeWidth": 2},
        "encoding": {"y": {"field": "cut", "type": "quantitative"}}}
      ]
     }
    ]
   },
   {
    "bounds": "flush",
    "spacing": 2,
    "resolve": {"scale": {"color": "independent"}},
    "vconcat": [
     {
      "data": {"name": "sampE"},
      "width": 327, "height": 60,
      "encoding": {"x": {"field": "sample", "type": "nominal", "sort": null, "scale": {"paddingInner": 0, "paddingOuter": 0}, "axis": null}},
      "layer": [
       {"mark": {"type": "tick", "orient": "horizontal", "size": 21, "thickness": 1.5, "color": "#8C8C8C"},
        "encoding": {"y": {"datum": 0.24, "type": "quantitative", "scale": {"domain": [0, 1]}, "axis": {"title": "E", "titleAngle": 0, "titleX": -63, "titleY": -2, "titleAlign": "left", "titleBaseline": "top", "titleFontSize": 31, "titleFontWeight": "bold", "labels": false, "ticks": false, "domain": false}}}},
       {"mark": {"type": "text", "angle": -45, "align": "left", "baseline": "middle", "fontSize": 12, "dx": -7},
        "encoding": {"y": {"datum": 0.31, "type": "quantitative"}, "text": {"field": "name"}}},
       {"transform": [{"filter": "datum.tm !== ''"}], "mark": {"type": "bar", "color": "#222222"},
        "encoding": {"y": {"datum": 0.8, "type": "quantitative"}, "y2": {"datum": 0.826}}},
       {"transform": [{"filter": "datum.sample === 'M288A'"}], "mark": {"type": "text", "fontSize": 15, "baseline": "bottom", "dy": -3},
        "encoding": {"x": {"field": "sample", "type": "nominal", "sort": null, "bandPosition": 0}, "y": {"datum": 0.826, "type": "quantitative"}, "text": {"field": "tm"}}}
      ]
     },
     {
      "data": {"name": "blotE"},
      "width": 327, "height": 61,
      "view": {"fill": "#000000", "stroke": null},
      "encoding": {"x": {"field": "lane", "type": "nominal", "sort": null, "scale": {"paddingInner": 0, "paddingOuter": 0},
        "axis": {"orient": "top", "title": "-Lys (h):", "titleAngle": 0, "titleX": -6, "titleY": -8, "titleAlign": "right", "titleBaseline": "middle", "titleFontSize": 12.5, "labelExpr": "split(datum.value, '|')[1]", "labelAngle": 0, "labelFontSize": 12.5, "labelPadding": 2, "ticks": false, "domain": false}}},
      "layer": [
       {"transform": [{"filter": "datum.band === 'FL'"}],
        "mark": {"type": "tick", "orient": "horizontal", "size": 12.5, "thickness": 4.5, "color": "#6CE83E"},
        "encoding": {"y": {"field": "kd", "type": "quantitative", "scale": {"type": "log", "domain": [22.9, 66.2], "nice": false},
          "axis": {"orient": "left", "title": null, "values": [56, 27.5], "labelExpr": "datum.value > 40 ? 'Ypq1-GFP' : 'Free GFP'", "labelFontSize": 11.5, "labelPadding": 1, "tickSize": 6, "tickColor": "#111111", "domain": false}},
          "opacity": {"field": "i", "type": "quantitative", "scale": {"domain": [0, 1], "range": [0, 1]}, "legend": null}}},
       {"transform": [{"filter": "datum.band === 'free'"}],
        "mark": {"type": "tick", "orient": "horizontal", "size": 12.5, "thickness": 5, "color": "#8CF046"},
        "encoding": {"y": {"field": "kd", "type": "quantitative",
          "axis": {"orient": "right", "title": "kD:", "titleAngle": 0, "titleX": 2, "titleY": 5, "titleAlign": "left", "titleBaseline": "middle", "titleFontSize": 10, "values": [50, 37, 25], "format": "d", "labelFontSize": 9.5, "labelPadding": 1, "tickSize": 3, "tickColor": "#111111", "domain": false}},
          "opacity": {"field": "i", "type": "quantitative", "legend": null}}},
       {"transform": [{"filter": "datum.band === 'Pgk1' && datum.sep === 'dotted'"}],
        "mark": {"type": "rule", "color": "#ffffff", "strokeWidth": 1, "strokeDash": [2, 2]},
        "encoding": {"x": {"field": "lane", "type": "nominal", "sort": null, "bandPosition": 0}}},
       {"transform": [{"filter": "datum.band === 'Pgk1' && datum.sep === 'gap'"}],
        "mark": {"type": "rule", "color": "#ffffff", "strokeWidth": 4},
        "encoding": {"x": {"field": "lane", "type": "nominal", "sort": null, "bandPosition": 0}}}
      ],
      "resolve": {"axis": {"y": "independent"}}
     },
     {
      "data": {"name": "blotE"},
      "transform": [{"filter": "datum.band === 'Pgk1'"}],
      "width": 327, "height": 30,
      "encoding": {"x": {"field": "lane", "type": "nominal", "sort": null, "scale": {"paddingInner": 0, "paddingOuter": 0}, "axis": null}},
      "layer": [
       {"mark": {"type": "bar", "color": "#000000", "stroke": "#000000", "strokeWidth": 0.6},
        "encoding": {"y": {"datum": 40, "type": "quantitative", "scale": {"domain": [27.4, 51], "nice": false, "zero": false}, "axis": null}, "y2": {"datum": 51}}},
       {"mark": {"type": "tick", "orient": "horizontal", "size": 13, "thickness": 3, "color": "#E0161E"},
        "encoding": {"y": {"field": "kd", "type": "quantitative", "axis": {"orient": "left", "title": null, "values": [45], "labelExpr": "'Pgk1'", "labelFontSize": 12.5, "labelPadding": 1, "tickSize": 6, "tickColor": "#111111", "domain": false}},
          "opacity": {"field": "i", "type": "quantitative", "scale": {"domain": [0, 1], "range": [0, 1]}, "legend": null}}},
       {"mark": {"type": "tick", "orient": "horizontal", "size": 13, "thickness": 1, "color": "#FF4A4A"},
        "encoding": {"y": {"field": "kd", "type": "quantitative", "axis": {"orient": "right", "title": null, "values": [50], "labelFontSize": 9.5, "labelBaseline": "top", "labelPadding": 1, "tickSize": 3, "tickColor": "#111111", "domain": false}},
          "opacity": {"field": "i", "type": "quantitative", "legend": null}}},
       {"transform": [{"filter": "datum.sep === 'dotted'"}],
        "mark": {"type": "rule", "color": "#ffffff", "strokeWidth": 1, "strokeDash": [2, 2]},
        "encoding": {"x": {"field": "lane", "type": "nominal", "sort": null, "bandPosition": 0}, "y": {"datum": 40, "type": "quantitative", "axis": null}, "y2": {"datum": 51}}},
       {"transform": [{"filter": "datum.sep === 'gap'"}],
        "mark": {"type": "rule", "color": "#ffffff", "strokeWidth": 4},
        "encoding": {"x": {"field": "lane", "type": "nominal", "sort": null, "bandPosition": 0}, "y": {"datum": 40, "type": "quantitative", "axis": null}, "y2": {"datum": 51}}}
      ],
      "resolve": {"axis": {"y": "independent"}}
     },
     {
      "data": {"name": "barE"},
      "width": 327, "height": 94,
      "layer": [
       {"mark": {"type": "rule", "color": "#333333", "strokeWidth": 1},
        "encoding": {
          "x": {"field": "sample", "type": "nominal", "sort": null, "scale": {"paddingInner": 0.4, "paddingOuter": 0.4}, "axis": {"title": null, "labelAngle": -45, "labelFontSize": 9, "labelPadding": 3, "ticks": false, "domainColor": "#111111"}},
          "xOffset": {"field": "t", "type": "nominal", "sort": ["0h -Lys", "6h -Lys"], "scale": {"paddingInner": 0.06}},
          "y": {"field": "v", "type": "quantitative", "scale": {"domain": [0, 100]}, "axis": {"title": "FL Ypq1-GFP (%)", "titleFontSize": 11.5, "titlePadding": 4, "values": [0, 20, 40, 60, 80, 100], "labelFontSize": 10, "labelPadding": 2, "tickSize": 5, "tickColor": "#111111", "domainColor": "#111111"}},
          "y2": {"field": "hi"}}},
       {"mark": {"type": "tick", "orient": "horizontal", "size": 5, "thickness": 1, "color": "#333333"},
        "encoding": {
          "x": {"field": "sample", "type": "nominal", "sort": null},
          "xOffset": {"field": "t", "type": "nominal", "sort": ["0h -Lys", "6h -Lys"]},
          "y": {"field": "hi", "type": "quantitative"}}},
       {"mark": {"type": "bar", "stroke": "#111111", "strokeWidth": 0.7},
        "encoding": {
          "x": {"field": "sample", "type": "nominal", "sort": null},
          "xOffset": {"field": "t", "type": "nominal", "sort": ["0h -Lys", "6h -Lys"]},
          "y": {"field": "v", "type": "quantitative"},
          "color": {"field": "t", "type": "nominal", "scale": {"domain": ["0h -Lys", "6h -Lys"], "range": ["#262626", "#8C8C8C"]},
            "legend": {"title": null, "orient": "none", "legendX": 103, "legendY": -13, "direction": "horizontal", "symbolType": "square", "symbolSize": 64, "symbolStrokeColor": "#111111", "symbolStrokeWidth": 0.8, "labelFontSize": 11, "labelColor": "#111111", "columnPadding": 36, "labelOffset": 3}}}},
       {"data": {"values": [{"cut": 40}]}, "mark": {"type": "rule", "color": "#C8202E", "strokeWidth": 2},
        "encoding": {"y": {"field": "cut", "type": "quantitative"}}}
      ]
     }
    ]
   }
  ]
 }
]
}
